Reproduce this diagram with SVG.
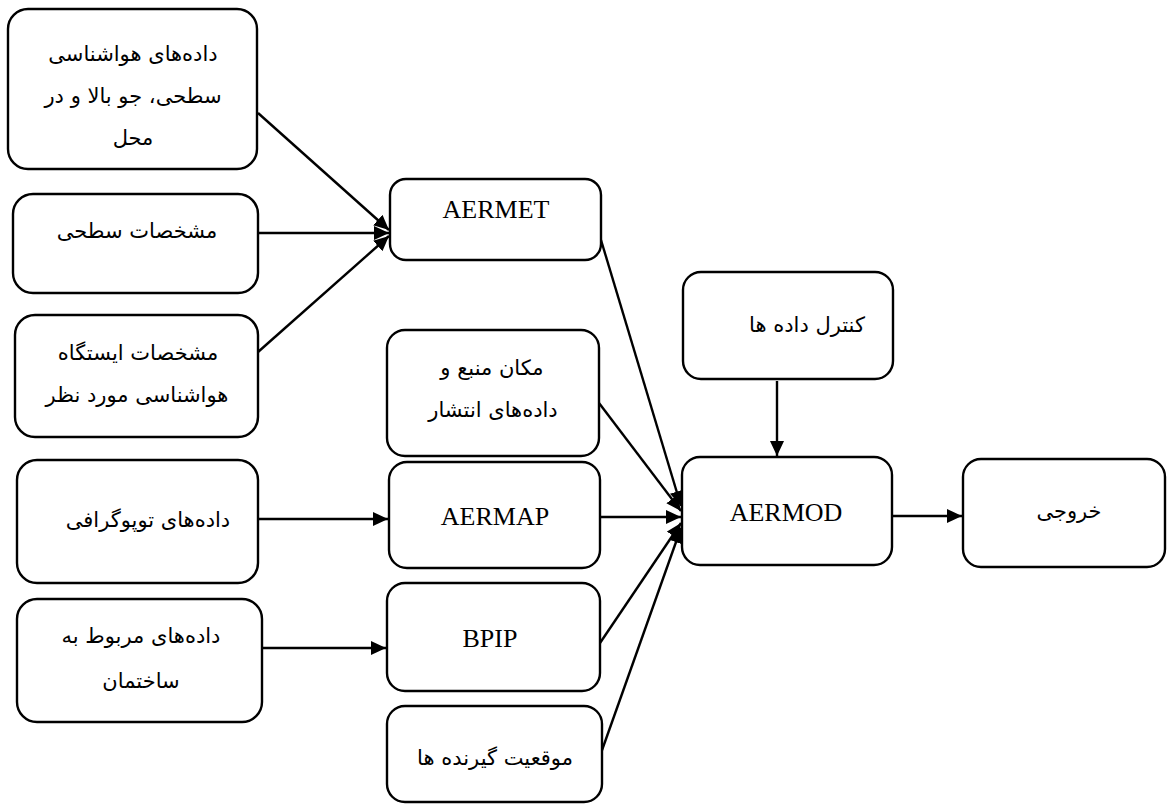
<svg xmlns="http://www.w3.org/2000/svg" width="1167" height="807" viewBox="0 0 1167 807">
<style>
.box{fill:#fff;stroke:#000;stroke-width:2.4}
.fa{font-family:"DejaVu Sans",sans-serif;font-size:21px;fill:#000;text-anchor:middle}
.en{font-family:"Liberation Serif",serif;font-size:26px;fill:#000;text-anchor:middle}
.ln{stroke:#000;stroke-width:2.4;fill:none;marker-end:url(#ah)}
</style>
<defs>
<marker id="ah" markerUnits="userSpaceOnUse" markerWidth="16" markerHeight="15" refX="15" refY="7" orient="auto">
<path d="M0,0 L15,7 L0,14 z" fill="#000"/>
</marker>
</defs>
<rect width="1167" height="807" fill="#fff"/>
<g id="connectors">
<line class="ln" x1="258" y1="113" x2="389" y2="230"/>
<line class="ln" x1="258" y1="233" x2="389" y2="233"/>
<line class="ln" x1="258" y1="352" x2="389" y2="236"/>
<line class="ln" x1="258" y1="519" x2="388" y2="519"/>
<line class="ln" x1="258" y1="648" x2="386" y2="648"/>
<line class="ln" x1="601" y1="240" x2="681" y2="506"/>
<line class="ln" x1="599" y1="403" x2="681" y2="511"/>
<line class="ln" x1="600" y1="517" x2="681" y2="517"/>
<line class="ln" x1="600" y1="643" x2="681" y2="523"/>
<line class="ln" x1="601" y1="753" x2="681" y2="528"/>
<line class="ln" x1="777" y1="381" x2="777" y2="456"/>
<line class="ln" x1="892" y1="516" x2="962" y2="516"/>
</g>
<g id="n1"><rect class="box" x="8" y="9" width="249" height="160" rx="20"/>
<text class="fa" x="133" y="61">داده‌های هواشناسی</text>
<text class="fa" x="133" y="103">سطحی، جو بالا و در</text>
<text class="fa" x="133" y="145">محل</text></g>
<g id="n2"><rect class="box" x="13" y="194" width="245" height="99" rx="20"/>
<text class="fa" x="137" y="238">مشخصات سطحی</text></g>
<g id="n3"><rect class="box" x="15" y="315" width="243" height="122" rx="20"/>
<text class="fa" x="138" y="360">مشخصات ایستگاه</text>
<text class="fa" x="137" y="402">هواشناسی مورد نظر</text></g>
<g id="n4"><rect class="box" x="17" y="460" width="241" height="123" rx="20"/>
<text class="fa" x="148" y="527">داده‌های توپوگرافی</text></g>
<g id="n5"><rect class="box" x="17" y="599" width="245" height="123" rx="20"/>
<text class="fa" x="141" y="643">داده‌های مربوط به</text>
<text class="fa" x="141" y="688">ساختمان</text></g>
<g id="aermet"><rect class="box" x="390" y="179" width="211" height="81" rx="16"/>
<text class="en" x="496" y="218">AERMET</text></g>
<g id="source"><rect class="box" x="387" y="330" width="212" height="126" rx="18"/>
<text class="fa" x="492" y="375">مکان منبع و</text>
<text class="fa" x="493" y="417">داده‌های انتشار</text></g>
<g id="aermap"><rect class="box" x="389" y="462" width="211" height="106" rx="18"/>
<text class="en" x="495" y="525">AERMAP</text></g>
<g id="bpip"><rect class="box" x="387" y="583" width="213" height="108" rx="18"/>
<text class="en" x="490" y="647">BPIP</text></g>
<g id="receptors"><rect class="box" x="387" y="706" width="215" height="96" rx="18"/>
<text class="fa" x="495" y="765">موقعیت گیرنده ها</text></g>
<g id="control"><rect class="box" x="683" y="272" width="210" height="107" rx="18"/>
<text class="fa" x="807" y="332">کنترل داده ها</text></g>
<g id="aermod"><rect class="box" x="682" y="457" width="210" height="108" rx="18"/>
<text class="en" x="786" y="521">AERMOD</text></g>
<g id="output"><rect class="box" x="963" y="459" width="202" height="108" rx="18"/>
<text class="fa" x="1069" y="518">خروجی</text></g>
</svg>
